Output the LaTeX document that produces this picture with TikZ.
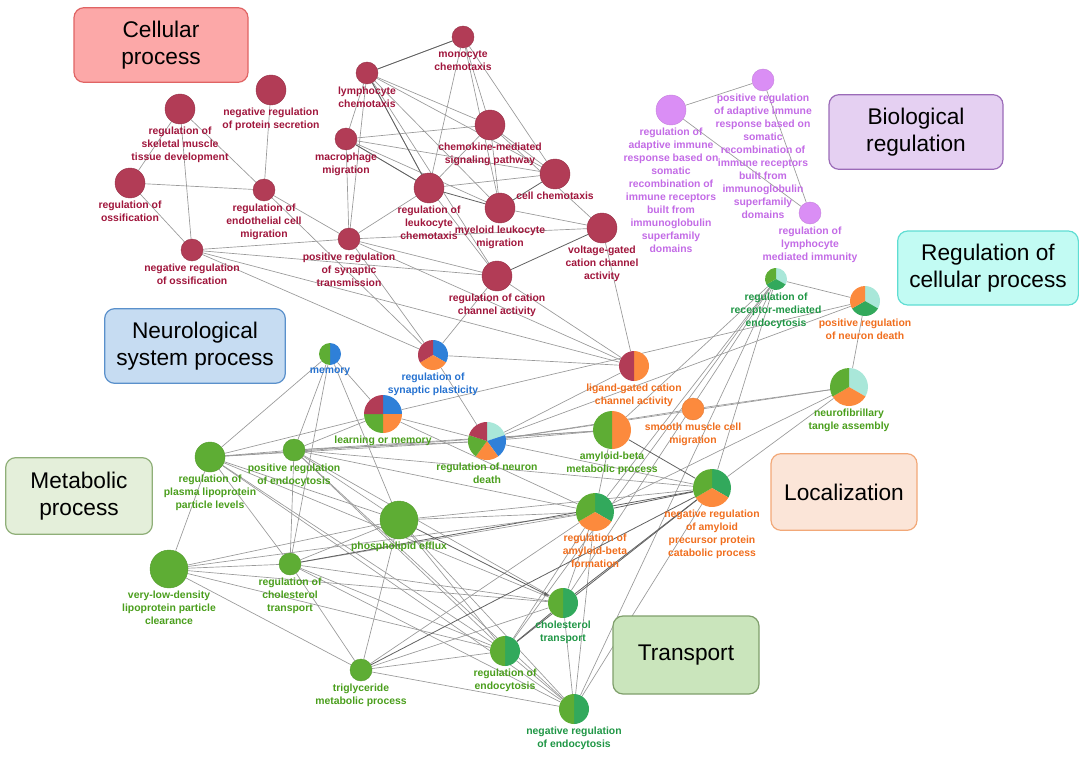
\documentclass[tikz,border=0pt]{standalone}
\usepackage{fontspec}
\setmainfont{Liberation Sans}
\usetikzlibrary{backgrounds,arrows.meta}

\definecolor{cpcol}{HTML}{B23C56}
\definecolor{cptxt}{HTML}{A0163C}
\definecolor{vicol}{HTML}{DA8EF5}
\definecolor{vitxt}{HTML}{C36BE6}
\definecolor{lgcol}{HTML}{5EAD34}
\definecolor{lgtxt}{HTML}{4A9E1C}
\definecolor{dgcol}{HTML}{32A95C}
\definecolor{dgtxt}{HTML}{1F9645}
\definecolor{orcol}{HTML}{FC8A3D}
\definecolor{ortxt}{HTML}{F06E1E}
\definecolor{blcol}{HTML}{2F80D8}
\definecolor{bltxt}{HTML}{2672D0}
\definecolor{tecol}{HTML}{A9E7D9}
% group box colours
\definecolor{cellfill}{HTML}{FCA8A8}\definecolor{celldraw}{HTML}{E06464}
\definecolor{biofill}{HTML}{E5D0F2}\definecolor{biodraw}{HTML}{9B6BB8}
\definecolor{rcpfill}{HTML}{C2FBF3}\definecolor{rcpdraw}{HTML}{5FDDD3}
\definecolor{neufill}{HTML}{C6DCF2}\definecolor{neudraw}{HTML}{5A90CB}
\definecolor{metfill}{HTML}{E4EFDA}\definecolor{metdraw}{HTML}{8FAF78}
\definecolor{locfill}{HTML}{FBE5D8}\definecolor{locdraw}{HTML}{F2A878}
\definecolor{trafill}{HTML}{CAE5BC}\definecolor{tradraw}{HTML}{7F9F6B}

% pie node: name, position, radius (px), number of parts, colours, options
\newcommand{\pienode}[6]{%
  \node[circle, inner sep=0pt, minimum size=#3*1.5pt, #6] (#1) at (#2) {};
  \foreach \col [count=\i from 0] in {#5}
    \fill[\col] (#1.center) -- ++({90-\i*360/#4}:{#3*0.75pt})
      arc[start angle={90-\i*360/#4}, delta angle={-360/#4}, radius={#3*0.75pt}] -- cycle;
}

\begin{document}
\begin{tikzpicture}[x=0.75pt, y=-0.75pt, label distance=1.5pt,
  lbl/.style={font=\fontsize{7.8}{9.75}\selectfont\bfseries, align=center, inner sep=0pt},
  cpl/.style={lbl, text=cptxt}, vil/.style={lbl, text=vitxt},
  lgl/.style={lbl, text=lgtxt}, dgl/.style={lbl, text=dgtxt},
  orl/.style={lbl, text=ortxt}, bll/.style={lbl, text=bltxt},
  dot/.style={circle, inner sep=0pt, line width=0.3pt},
  cp/.style={dot, fill=cpcol, draw=cpcol!85!black},
  vi/.style={dot, fill=vicol, draw=vicol!90!black},
  lg/.style={dot, fill=lgcol, draw=lgcol!90!black},
  or/.style={dot, fill=orcol, draw=orcol!90!black},
  s1/.style={minimum size=16.5pt}, s2/.style={minimum size=22.5pt}, s3/.style={minimum size=28.5pt},
  edge/.style={draw=black!40, line width=0.5pt},
  dedge/.style={draw=black!62, line width=0.6pt},
  group/.style={rounded corners=7.5pt, line width=0.9pt, align=center,
    font=\fontsize{17}{20}\selectfont}]
\useasboundingbox (0,0) rectangle (1084,756);

% group boxes
\node[group, fill=cellfill, draw=celldraw, minimum width=130.5pt, minimum height=56pt] (gcell) at (161,45) {Cellular\\process};
\node[group, fill=biofill, draw=biodraw, minimum width=130.5pt, minimum height=56pt] (gbio) at (916,132) {Biological\\regulation};
\node[group, fill=rcpfill, draw=rcpdraw, minimum width=135.5pt, minimum height=55.5pt] (grcp) at (988,268) {Regulation of\\cellular process};
\node[group, fill=neufill, draw=neudraw, minimum width=135.5pt, minimum height=56pt] (gneu) at (195,346) {Neurological\\system process};
\node[group, fill=metfill, draw=metdraw, minimum width=110pt, minimum height=57.5pt] (gmet) at (79,496) {Metabolic\\process};
\node[group, fill=locfill, draw=locdraw, minimum width=109.5pt, minimum height=57.5pt] (gloc) at (844,492) {Localization};
\node[group, fill=trafill, draw=tradraw, minimum width=109.5pt, minimum height=58.5pt] (gtra) at (686,655) {Transport};

% cellular process nodes
\node[cp, s1, label={[cpl]below:monocyte\\chemotaxis}] (mono) at (463,37) {};
\node[cp, s1, label={[cpl]below:lymphocyte\\chemotaxis}] (lymph) at (367,73) {};
\node[cp, s2, label={[cpl]below:negative regulation\\of protein secretion}] (negprot) at (271,90) {};
\node[cp, s2, label={[cpl]below:regulation of\\skeletal muscle\\tissue development}] (skel) at (180,109) {};
\node[cp, s1, label={[cpl]below:macrophage\\migration}] (macro) at (346,139) {};
\node[cp, s2, label={[cpl]below:chemokine-mediated\\signaling pathway}] (chemok) at (490,125) {};
\node[cp, s2, label={[cpl]below:regulation of\\ossification}] (ossif) at (130,183) {};
\node[cp, s1, label={[cpl]below:regulation of\\endothelial cell\\migration}] (endo) at (264,190) {};
\node[cp, s2, label={[cpl]below:regulation of\\leukocyte\\chemotaxis}] (leuk) at (429,188) {};
\node[cp, s2, label={[cpl]below:cell chemotaxis}] (cellchem) at (555,174) {};
\node[cp, s2, label={[cpl]below:myeloid leukocyte\\migration}] (myeloid) at (500,208) {};
\node[cp, s1, label={[cpl]below:negative regulation\\of ossification}] (negoss) at (192,250) {};
\node[cp, s1, label={[cpl]below:positive regulation\\of synaptic\\transmission}] (possyn) at (349,239) {};
\node[cp, s2, label={[cpl]below:voltage-gated\\cation channel\\activity}] (vgated) at (602,228) {};
\node[cp, s2, label={[cpl]below:regulation of cation\\channel activity}] (cation) at (497,276) {};

% biological regulation nodes
\node[vi, s2, label={[vil]below:regulation of\\adaptive immune\\response based on\\somatic\\recombination of\\immune receptors\\built from\\immunoglobulin\\superfamily\\domains}] (adapt) at (671,110) {};
\node[vi, s1, label={[vil]below:positive regulation\\of adaptive immune\\response based on\\somatic\\recombination of\\immune receptors\\built from\\immunoglobulin\\superfamily\\domains}] (posadapt) at (763,80) {};
\node[vi, s1, label={[vil]below:regulation of\\lymphocyte\\mediated immunity}] (lymimm) at (810,213) {};

% metabolic nodes
\node[lg, s2, label={[lgl]below:regulation of\\plasma lipoprotein\\particle levels}] (plasma) at (210,457) {};
\node[lg, s1, label={[lgl]below:positive regulation\\of endocytosis}] (posendo) at (294,450) {};
\node[lg, s3, label={[lgl]below:phospholipid efflux}] (phospho) at (399,520) {};
\node[lg, s3, label={[lgl]below:very-low-density\\lipoprotein particle\\clearance}] (vldl) at (169,569) {};
\node[lg, s1, label={[lgl]below:regulation of\\cholesterol\\transport}] (cholreg) at (290,564) {};
\node[lg, s1, label={[lgl]below:triglyceride\\metabolic process}] (trig) at (361,670) {};
\node[or, s1, label={[orl]below:smooth muscle cell\\migration}] (smooth) at (693,409) {};

% mixed nodes
\pienode{memory}{330,354}{11}{2}{blcol,lgcol}{label={[bll]below:memory}}
\pienode{synplast}{433,355}{15}{3}{blcol,orcol,cpcol}{label={[bll]below:regulation of\\synaptic plasticity}}
\pienode{learn}{383,414}{19}{4}{blcol,orcol,lgcol,cpcol}{label={[lgl]below:learning or memory}}
\pienode{neurdeath}{487,441}{19}{5}{tecol,blcol,orcol,lgcol,cpcol}{label={[lgl]below:regulation of neuron\\death}}
\pienode{ligand}{634,366}{15}{2}{orcol,cpcol}{label={[orl]below:ligand-gated cation\\channel activity}}
\pienode{amyloidmet}{612,430}{19}{2}{orcol,lgcol}{label={[lgl]below:amyloid-beta\\metabolic process}}
\pienode{recrec}{776,279}{11}{3}{tecol,dgcol,lgcol}{label={[dgl]below:regulation of\\receptor-mediated\\endocytosis}}
\pienode{posnd}{865,301}{15}{3}{tecol,dgcol,orcol}{label={[orl]below:positive regulation\\of neuron death}}
\pienode{neurofib}{849,387}{19}{3}{tecol,orcol,lgcol}{label={[lgl]below:neurofibrillary\\tangle assembly}}
\pienode{negapp}{712,488}{19}{3}{dgcol,orcol,lgcol}{label={[orl]below:negative regulation\\of amyloid\\precursor protein\\catabolic process}}
\pienode{regab}{595,512}{19}{3}{dgcol,orcol,lgcol}{label={[orl]below:regulation of\\amyloid-beta\\formation}}
\pienode{cholt}{563,603}{15}{2}{dgcol,lgcol}{label={[dgl]below:cholesterol\\transport}}
\pienode{regendo}{505,651}{15}{2}{dgcol,lgcol}{label={[lgl]below:regulation of\\endocytosis}}
\pienode{negendo}{574,709}{15}{2}{dgcol,lgcol}{label={[dgl]below:negative regulation\\of endocytosis}}

%lines
\begin{pgfonlayer}{background}
\foreach \a/\b in {mono/lymph, mono/chemok, mono/leuk, mono/myeloid, mono/cellchem,
  lymph/macro, lymph/possyn, lymph/chemok, lymph/leuk, lymph/myeloid, lymph/cellchem, lymph/cation,
  macro/possyn, macro/chemok, macro/leuk, macro/myeloid, macro/cellchem,
  chemok/leuk, chemok/myeloid, chemok/cellchem, chemok/vgated,
  leuk/cellchem, leuk/possyn, leuk/cation, myeloid/vgated,
  skel/ossif, skel/negoss, skel/endo, negprot/endo, ossif/endo, ossif/negoss,
  endo/possyn, endo/synplast, negoss/possyn, negoss/cation, negoss/ligand, negoss/synplast,
  possyn/cation, possyn/ligand, possyn/synplast, possyn/vgated,
  cation/synplast, cation/ligand, vgated/ligand, synplast/ligand, synplast/neurdeath,
  adapt/posadapt, adapt/lymimm, posadapt/lymimm,
  memory/learn, memory/plasma, memory/posendo, memory/phospho, memory/cholreg,
  learn/neurdeath, learn/posendo, learn/plasma, learn/regab, learn/posnd,
  neurdeath/ligand, neurdeath/amyloidmet, neurdeath/smooth, neurdeath/posnd, neurdeath/neurofib,
  neurdeath/posendo, neurdeath/plasma, neurdeath/negapp,
  smooth/neurofib, amyloidmet/regab, amyloidmet/plasma, amyloidmet/posendo, amyloidmet/recrec,
  posnd/neurofib, posnd/recrec, neurofib/negapp, neurofib/regab,
  recrec/regab, recrec/negapp, recrec/cholt, recrec/regendo, recrec/negendo,
  plasma/posendo, plasma/vldl, plasma/cholreg, plasma/phospho, plasma/cholt, plasma/regendo, plasma/negendo,
  posendo/phospho, posendo/cholreg, posendo/regendo, posendo/negendo, posendo/cholt, posendo/regab, posendo/negapp,
  vldl/cholreg, vldl/phospho, vldl/trig, vldl/cholt, vldl/regendo, vldl/regab,
  cholreg/phospho, cholreg/cholt, cholreg/trig, cholreg/regendo, cholreg/negendo, cholreg/regab,
  phospho/regendo, phospho/negendo, phospho/trig, phospho/regab, phospho/negapp,
  trig/regendo, trig/cholt, trig/regab, trig/negendo,
  regendo/negendo, regendo/regab, cholt/negendo, cholt/regab, negendo/regab, negendo/negapp}
  \draw[edge] (\a) -- (\b);
\foreach \a/\b in {mono/lymph, lymph/leuk, macro/leuk, leuk/myeloid, myeloid/cellchem, cation/vgated,
  amyloidmet/negapp, regab/negapp, regendo/cholt, regendo/negapp, cholt/negapp, cholreg/negapp, trig/negapp}
  \draw[dedge] (\a) -- (\b);
\draw[dedge, -{Latex[length=4pt, width=3pt]}] (phospho) -- (cholt);
\end{pgfonlayer}
\end{tikzpicture}
\end{document}
